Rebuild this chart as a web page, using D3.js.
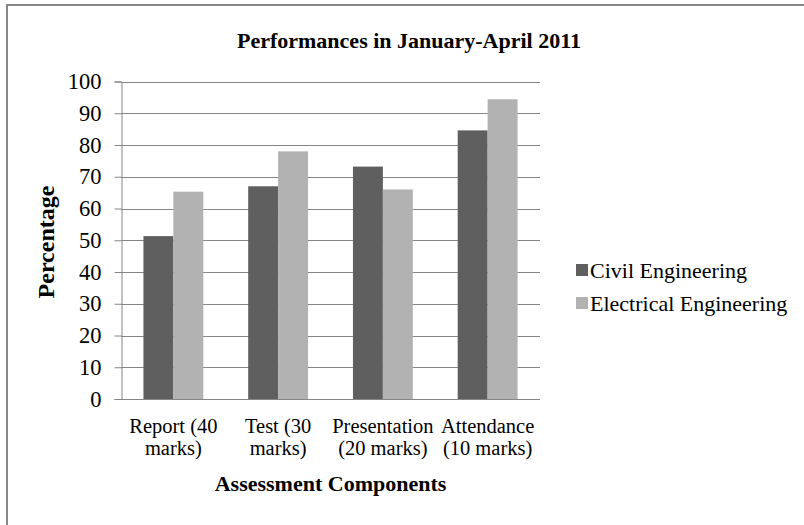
<!DOCTYPE html>
<html>
<head>
<meta charset="utf-8">
<script src="https://cdn.jsdelivr.net/npm/d3@7"></script>
<style>
  html, body { margin: 0; padding: 0; background: #fff; }
  svg { display: block; }
  text { font-family: "Liberation Serif", "Times New Roman", serif; fill: #000; }
</style>
</head>
<body>
<svg id="chart" width="804" height="525"></svg>
<script>
const categories = [["Report (40", "marks)"], ["Test (30", "marks)"], ["Presentation", "(20 marks)"], ["Attendance", "(10 marks)"]];
const seriesNames = ["Civil Engineering", "Electrical Engineering"];
const civil = [51.3, 67.0, 73.2, 84.6];
const electrical = [65.3, 78.0, 66.0, 94.4];
const yTicks = [0, 10, 20, 30, 40, 50, 60, 70, 80, 90, 100];
const colors = ["#5f5f5f", "#b2b2b2"];

const svg = d3.select("#chart");
const W = 804, H = 525;
const plot = { left: 121, right: 540, top: 81.5, bottom: 399 };

// outer frame (only top/left visible in picture)
svg.append("rect").attr("x", 7).attr("y", 5).attr("width", W + 20).attr("height", H + 20)
  .attr("fill", "#fff").attr("stroke", "#888").attr("stroke-width", 2);

const y = d3.scaleLinear().domain([0, 100]).range([plot.bottom, plot.top]);
const catIdx = categories.map((d, i) => i);
const x0 = d3.scaleBand().domain(catIdx).range([plot.left, plot.right]).padding(0);
const step = x0.step();
// Excel-like gap width 150%: each category = 2 bars + 1.5 bar gap
const barW = step / 3.5;
const x1 = d3.scaleBand().domain([0, 1]).range([0.75 * barW, 2.75 * barW]).padding(0);

// gridlines
svg.append("g").selectAll("line").data(yTicks.filter(d => d > 0)).join("line")
  .attr("x1", plot.left).attr("x2", plot.right)
  .attr("y1", d => Math.round(y(d)) + 0.5).attr("y2", d => Math.round(y(d)) + 0.5)
  .attr("stroke", "#868686").attr("stroke-width", 1);

// bars
const data = catIdx.map(i => [civil[i], electrical[i]]);
const groups = svg.append("g").selectAll("g").data(data).join("g")
  .attr("transform", (d, i) => `translate(${x0(i)},0)`);
groups.selectAll("rect").data(d => d.map((v, s) => ({ v, s }))).join("rect")
  .attr("x", d => x1(d.s)).attr("width", x1.bandwidth())
  .attr("y", d => y(d.v)).attr("height", d => y(0) - y(d.v))
  .attr("fill", d => colors[d.s]);

// y axis
const yAxis = d3.axisLeft(y).tickValues(yTicks).tickSize(7).tickPadding(13).tickFormat(d3.format("d"));
const gy = svg.append("g").attr("transform", `translate(${plot.left + 0.5},0)`).call(yAxis);
gy.select(".domain").attr("stroke", "#868686");
gy.selectAll(".tick line").attr("stroke", "#868686");
gy.selectAll(".tick text").attr("font-size", 22.5).attr("font-family", "Liberation Serif").attr("fill", "#000");

// x axis line
svg.append("line").attr("x1", plot.left).attr("x2", plot.right)
  .attr("y1", Math.round(y(0)) + 0.5).attr("y2", Math.round(y(0)) + 0.5)
  .attr("stroke", "#868686");

// category labels
const xl = svg.append("g").selectAll("text").data(categories).join("text")
  .attr("x", (d, i) => x0(i) + step / 2).attr("y", 433)
  .attr("text-anchor", "middle").attr("font-size", 20.5);
xl.selectAll("tspan").data(d => d).join("tspan")
  .attr("x", function () { return this.parentNode.getAttribute("x"); })
  .attr("dy", (d, i) => i === 0 ? 0 : 21.5)
  .text(d => d);

// title
svg.append("text").attr("x", 409).attr("y", 48).attr("text-anchor", "middle")
  .attr("font-size", 22).attr("font-weight", "bold").text("Performances in January-April 2011");

// axis titles
svg.append("text").attr("x", (plot.left + plot.right) / 2).attr("y", 491).attr("text-anchor", "middle")
  .attr("font-size", 22).attr("font-weight", "bold").text("Assessment Components");
svg.append("text").attr("transform", "translate(54,242) rotate(-90)").attr("text-anchor", "middle")
  .attr("font-size", 24).attr("font-weight", "bold").text("Percentage");

// legend
const lg = svg.append("g").selectAll("g").data(seriesNames).join("g")
  .attr("transform", (d, i) => `translate(576,${264 + i * 33})`);
lg.append("rect").attr("width", 12).attr("height", 12).attr("fill", (d, i) => colors[i]);
lg.append("text").attr("x", 14).attr("y", 13.5).attr("font-size", 22).text(d => d);
</script>
</body>
</html>
